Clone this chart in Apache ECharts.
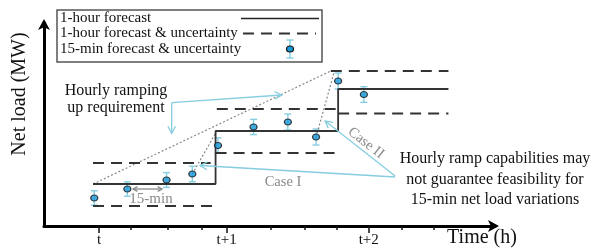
<!DOCTYPE html>
<html><head><meta charset="utf-8">
<script src="https://cdn.jsdelivr.net/npm/echarts@6/dist/echarts.min.js"></script>
<style>html,body{margin:0;padding:0;background:#fff}#c{width:597px;height:248px}</style>
</head><body><div id="c"></div>
<script>
// ---- data (x in hours from t, y in MW, schematic units) ----
const hourStart = [0, 1, 2];
const hourEnd = [1, 2, 2.9];
const hourForecast = [21, 47.5, 68.5];
const upperBand = [31.5, 58.5, 77.5];
const upperStart = [0, 1.01, 1.94];
const upperEnd = [0.96, 1.98, 2.9];
const lowerBand = [10, 36.5, 56.25];
const lowerStart = [0, 1.0, 2.0];
const lowerEnd = [1.02, 1.98, 2.9];
const dotX = [0.01, 0.28, 0.6, 0.81, 1.02, 1.31, 1.59, 1.82, 2.0, 2.21];
const dotY = [14, 18.5, 23, 26, 40.25, 49.5, 52, 44.5, 72.5, 65.75];
const dotErr = [3.6, 3.6, 3.7, 3.9, 3.8, 3.8, 4, 4, 4, 3.9];
const rampLine = [[0, 21], [1.94, 77.5]];
const caseILine = [[0.81, 26], [1.01, 47.5]];
const caseIILine = [[1.82, 44.5], [1.97, 77.5]];
const tickLabels = ['t', 't+1', 't+2'];
const tickPos = [0.05, 1.09, 2.25];
const minorTickPos = [0.31, 0.61, 0.89, 1.45, 1.73, 1.99, 2.52, 2.78];
// annotation arrows: [x1,y1,x2(tip),y2(tip)]
const calloutArrows = [[0.642, 61.65, 1.54, 65.5], [0.642, 61.65, 0.642, 46.35]];
const caseArrows = [[2.465, 24.5, 0.873, 30.25], [2.465, 25, 1.894, 52.5]];
const minArrow = [[0.45, 18.5, 0.327, 18.5], [0.45, 18.5, 0.563, 18.5]];

const SERIF = '"Liberation Serif", "DejaVu Serif", serif';
const BLUE = '#86cde0';

function buildSteps() {
  const pts = [];
  for (let i = 0; i < hourStart.length; i++) {
    pts.push([hourStart[i], hourForecast[i]]);
    pts.push([hourEnd[i], hourForecast[i]]);
  }
  return pts;
}
function buildSegs(starts, ends, vals) {
  const pts = [];
  for (let i = 0; i < vals.length; i++) {
    pts.push([starts[i], vals[i]]);
    pts.push([ends[i], vals[i]]);
    if (i < vals.length - 1) pts.push([ends[i], null]);
  }
  return pts;
}
function arrowRender(color, lw, hl) {
  return function (params, api) {
    const a = api.coord([api.value(0), api.value(1)]);
    const b = api.coord([api.value(2), api.value(3)]);
    const ang = Math.atan2(b[1] - a[1], b[0] - a[0]);
    const th = 0.5;
    const h1 = [b[0] - hl * Math.cos(ang - th), b[1] - hl * Math.sin(ang - th)];
    const h2 = [b[0] - hl * Math.cos(ang + th), b[1] - hl * Math.sin(ang + th)];
    return {
      type: 'group', children: [
        { type: 'line', shape: { x1: a[0], y1: a[1], x2: b[0], y2: b[1] }, style: { stroke: color, lineWidth: lw } },
        { type: 'polyline', shape: { points: [h1, b, h2] }, style: { stroke: color, lineWidth: lw, fill: null } }
      ]
    };
  };
}

const chart = echarts.init(document.getElementById('c'), null, { renderer: 'canvas' });
const errData = dotX.map((x, i) => [x, dotY[i] - dotErr[i], dotY[i] + dotErr[i]]);
const dotData = dotX.map((x, i) => [x, dotY[i]]);

chart.setOption({
  animation: false,
  grid: { left: 44, right: 102, top: 23, bottom: 22 },
  xAxis: [{
    type: 'value', min: -0.4, max: 3.28,
    axisLine: { onZero: false, lineStyle: { color: '#000', width: 3 }, symbol: ['none', 'arrow'], symbolSize: [9, 11], symbolOffset: [0, 4] },
    axisTick: { show: true, customValues: tickPos, length: 7, lineStyle: { color: '#111', width: 1.5 } },
    axisLabel: {
      customValues: tickPos, margin: 7, color: '#111', fontFamily: SERIF, fontSize: 15,
      formatter: v => { let k = 0, d = 1e9; tickPos.forEach((p, i) => { if (Math.abs(p - v) < d) { d = Math.abs(p - v); k = i; } }); return tickLabels[k]; }
    },
    splitLine: { show: false }
  }, {
    type: 'value', min: -0.4, max: 3.28, position: 'bottom',
    axisLine: { show: false, onZero: false },
    axisTick: { show: true, customValues: minorTickPos, length: 4, lineStyle: { color: '#111', width: 1.5 } },
    axisLabel: { show: false },
    splitLine: { show: false }
  }],
  yAxis: {
    type: 'value', min: 0, max: 101.5,
    axisLine: { show: true, onZero: false, lineStyle: { color: '#000', width: 3 }, symbol: ['none', 'arrow'], symbolSize: [9, 11], symbolOffset: [0, 4] },
    axisTick: { show: false }, axisLabel: { show: false }, splitLine: { show: false }
  },
  series: [
    { name: 'ramp', type: 'line', data: rampLine, symbol: 'none', lineStyle: { color: '#888', width: 1.2, type: [2, 2] } },
    { name: 'caseI', type: 'line', data: caseILine, symbol: 'none', lineStyle: { color: '#888', width: 1.2, type: [2, 2] } },
    { name: 'caseII', type: 'line', data: caseIILine, symbol: 'none', lineStyle: { color: '#888', width: 1.2, type: [2, 2] } },
    { name: '1-hour forecast', type: 'line', data: buildSteps(), symbol: 'none', lineStyle: { color: '#333', width: 1.8 } },
    { name: 'upper', type: 'line', data: buildSegs(upperStart, upperEnd, upperBand), symbol: 'none', connectNulls: false, lineStyle: { color: '#333', width: 1.8, type: [11, 7] } },
    { name: 'lower', type: 'line', data: buildSegs(lowerStart, lowerEnd, lowerBand), symbol: 'none', connectNulls: false, lineStyle: { color: '#333', width: 1.8, type: [11, 7] } },
    {
      name: 'err', type: 'custom', data: errData, encode: { x: 0, y: [1, 2] }, z: 3,
      renderItem: (params, api) => {
        const x = api.value(0);
        const p1 = api.coord([x, api.value(1)]), p2 = api.coord([x, api.value(2)]);
        const st = { stroke: BLUE, lineWidth: 1.4 };
        return { type: 'group', children: [
          { type: 'line', shape: { x1: p1[0], y1: p1[1], x2: p2[0], y2: p2[1] }, style: st },
          { type: 'line', shape: { x1: p1[0] - 3.5, y1: p1[1], x2: p1[0] + 3.5, y2: p1[1] }, style: st },
          { type: 'line', shape: { x1: p2[0] - 3.5, y1: p2[1], x2: p2[0] + 3.5, y2: p2[1] }, style: st }
        ] };
      }
    },
    { name: '15-min', type: 'scatter', data: dotData, symbol: 'circle', symbolSize: [7, 6], z: 4,
      itemStyle: { color: '#1a98d8', borderColor: '#111', borderWidth: 1.2 } },
    { type: 'custom', data: calloutArrows, encode: { x: [0, 2], y: [1, 3] }, renderItem: arrowRender(BLUE, 1.3, 8), z: 5 },
    { type: 'custom', data: caseArrows, encode: { x: [0, 2], y: [1, 3] }, renderItem: arrowRender(BLUE, 1.3, 8), z: 5 },
    { type: 'custom', data: minArrow, encode: { x: [0, 2], y: [1, 3] }, renderItem: arrowRender('#888', 1.3, 5), z: 5 }
  ],
  graphic: [
    { type: 'rect', shape: { x: 57, y: 10, width: 265, height: 52 }, style: { fill: '#fff', stroke: '#555', lineWidth: 1.5 }, z: 10 },
    { type: 'text', x: 60, y: 18, style: { text: '1-hour forecast', fontFamily: SERIF, fontSize: 15, fill: '#111', textVerticalAlign: 'middle' }, z: 11 },
    { type: 'text', x: 60, y: 33.5, style: { text: '1-hour forecast & uncertainty', fontFamily: SERIF, fontSize: 15, fill: '#111', textVerticalAlign: 'middle' }, z: 11 },
    { type: 'text', x: 60, y: 49, style: { text: '15-min forecast & uncertainty', fontFamily: SERIF, fontSize: 15, fill: '#111', textVerticalAlign: 'middle' }, z: 11 },
    { type: 'line', shape: { x1: 241, y1: 18.5, x2: 319, y2: 18.5 }, style: { stroke: '#222', lineWidth: 1.5 }, z: 11 },
    { type: 'line', shape: { x1: 243, y1: 33.5, x2: 316, y2: 33.5 }, style: { stroke: '#333', lineWidth: 1.8, lineDash: [11, 7] }, z: 11 },
    { type: 'line', shape: { x1: 290, y1: 40, x2: 290, y2: 58 }, style: { stroke: BLUE, lineWidth: 1.4 }, z: 11 },
    { type: 'line', shape: { x1: 286.5, y1: 40, x2: 293.5, y2: 40 }, style: { stroke: BLUE, lineWidth: 1.4 }, z: 11 },
    { type: 'line', shape: { x1: 286.5, y1: 58, x2: 293.5, y2: 58 }, style: { stroke: BLUE, lineWidth: 1.4 }, z: 11 },
    { type: 'ellipse', shape: { cx: 290, cy: 49, rx: 3.5, ry: 3 }, style: { fill: '#1a98d8', stroke: '#111', lineWidth: 1.2 }, z: 12 },

    { type: 'text', x: 20, y: 94, rotation: Math.PI / 2, style: { text: 'Net load (MW)', fontFamily: SERIF, fontSize: 20, fill: '#111', textAlign: 'center', textVerticalAlign: 'middle' } },
    { type: 'text', x: 482, y: 238, style: { text: 'Time (h)', fontFamily: SERIF, fontSize: 20, fill: '#111', textAlign: 'center', textVerticalAlign: 'middle' } },
    { type: 'text', x: 116, y: 91, style: { text: 'Hourly ramping', fontFamily: SERIF, fontSize: 16, fill: '#111', textAlign: 'center', textVerticalAlign: 'middle' } },
    { type: 'text', x: 116, y: 108, style: { text: 'up requirement', fontFamily: SERIF, fontSize: 16, fill: '#111', textAlign: 'center', textVerticalAlign: 'middle' } },
    { type: 'text', x: 495, y: 159, style: { text: 'Hourly ramp capabilities may', fontFamily: SERIF, fontSize: 16, fill: '#111', textAlign: 'center', textVerticalAlign: 'middle' } },
    { type: 'text', x: 495, y: 179.5, style: { text: 'not guarantee feasibility for', fontFamily: SERIF, fontSize: 16, fill: '#111', textAlign: 'center', textVerticalAlign: 'middle' } },
    { type: 'text', x: 495, y: 200, style: { text: '15-min net load variations', fontFamily: SERIF, fontSize: 16, fill: '#111', textAlign: 'center', textVerticalAlign: 'middle' } },
    { type: 'text', x: 283, y: 182, style: { text: 'Case I', fontFamily: SERIF, fontSize: 14.5, fill: '#8a8a8a', textAlign: 'center', textVerticalAlign: 'middle' } },
    { type: 'text', x: 366, y: 143, rotation: -0.665, style: { text: 'Case II', fontFamily: SERIF, fontSize: 14.5, fill: '#8a8a8a', textAlign: 'center', textVerticalAlign: 'middle' } },
    { type: 'text', x: 151, y: 199, style: { text: '15-min', fontFamily: SERIF, fontSize: 15, fill: '#8a8a8a', textAlign: 'center', textVerticalAlign: 'middle' } }
  ]
});
</script></body></html>
